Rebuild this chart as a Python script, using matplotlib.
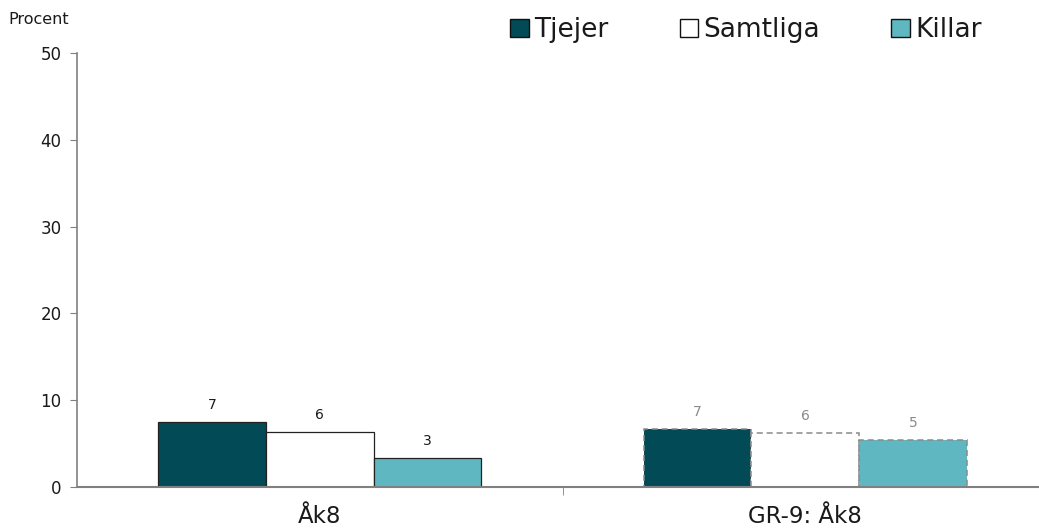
import matplotlib
matplotlib.use("Agg")
import matplotlib.pyplot as plt
import numpy as np
from matplotlib.patches import Patch

categories = ["Åk8", "GR-9: Åk8"]
series_names = ["Tjejer", "Samtliga", "Killar"]
tjejer = [7.45, 6.64]
samtliga = [6.34, 6.22]
killar = [3.3, 5.41]
yticks = [0, 10, 20, 30, 40, 50]

colors = ["#024a55", "#ffffff", "#5fb8c1"]
values = [tjejer, samtliga, killar]

plt.rcParams['font.family'] = ['DejaVu Sans']
txt = "#1a1a1a"

fig = plt.figure(figsize=(10.39, 5.31), dpi=100)
ax = fig.add_axes([77/1039, (531-487)/531, (1048-77)/1039, (487-53)/531])

x = np.arange(len(categories))
w = 0.222
for i, (name, vals, col) in enumerate(zip(series_names, values, colors)):
    pos = x + (i - 1) * w
    for j, (p, v) in enumerate(zip(pos, vals)):
        if j == 0:
            ax.bar(p, v, w, color=col, edgecolor="#222222", linewidth=0.9, zorder=2)
            lc = txt
        else:
            ax.bar(p, v, w, color=col, edgecolor="#8a8a8a", linewidth=1.1,
                   linestyle=(0, (4, 2.5)), zorder=2)
            lc = "#8a8a8a"
        ax.annotate(f"{v:.0f}", (p, v), xytext=(0, 10), textcoords="offset pixels",
                    ha="center", va="bottom", fontsize=10, color=lc)

ax.set_xlim(-0.5, 1.5)
ax.set_ylim(0, 50)
ax.set_yticks(yticks)
ax.set_yticklabels([str(t) for t in yticks], fontsize=12, color=txt)
ax.set_xticks(x)
ax.set_xticklabels(categories, fontsize=16.5, color=txt)
ax.set_xticks([0.5], minor=True)
ax.tick_params(axis="x", which="major", length=0, pad=13)
ax.tick_params(axis="x", which="minor", length=6, color="#808080", direction="out")
ax.tick_params(axis="y", length=5, color="#808080", pad=6)

for s in ["top", "right"]:
    ax.spines[s].set_visible(False)
ax.spines["left"].set_color("#808080")
ax.spines["bottom"].set_color("#808080")
ax.spines["bottom"].set_linewidth(1.5)
ax.spines["left"].set_linewidth(1.2)

fig.text(8/1039, 1 - 20/531, "Procent", fontsize=11.5, ha="left", va="center", color=txt)

handles = [Patch(facecolor=c, edgecolor="#111111", linewidth=1.0) for c in colors]
leg = fig.legend(handles, series_names, loc="center", bbox_to_anchor=(746/1039, 1 - 30/531),
                 ncol=3, frameon=False, fontsize=19, handlelength=0.7, handleheight=0.7,
                 handletextpad=0.2, columnspacing=2.7, borderaxespad=0, labelcolor=txt)

fig.savefig("out.png", dpi=100)
